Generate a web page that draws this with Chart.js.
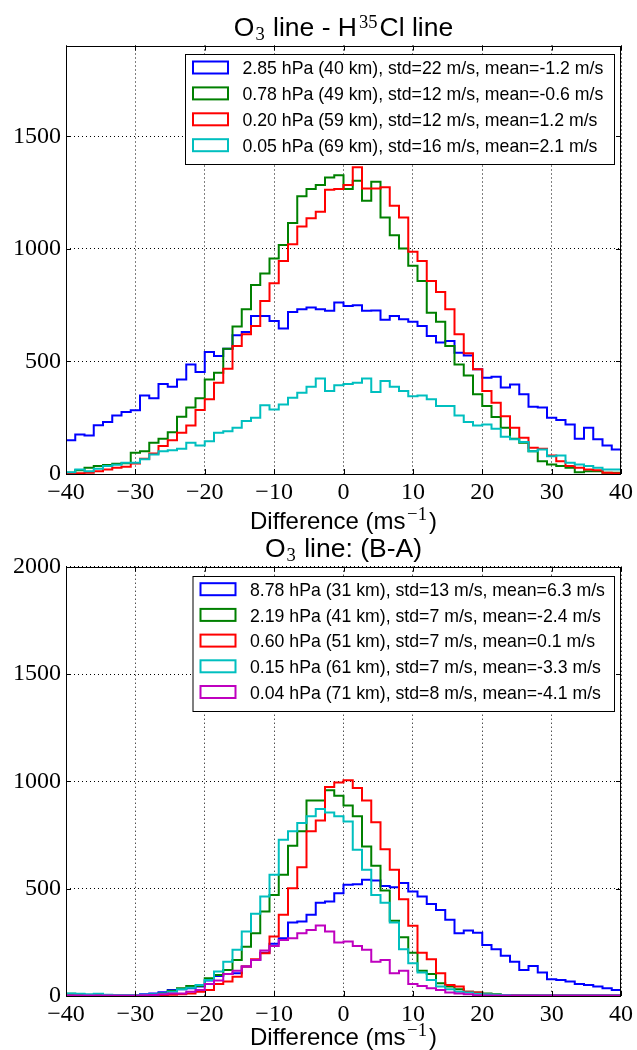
<!DOCTYPE html>
<html><head><meta charset="utf-8">
<script src="https://cdn.jsdelivr.net/npm/chart.js@4"></script>
<style>
html,body{margin:0;padding:0;background:#fff;width:637px;height:1050px;overflow:hidden;position:relative}
canvas{position:absolute;left:0}
#c1{top:0}
#c2{top:535px}
</style></head><body>
<canvas id="c1" width="637" height="540"></canvas>
<canvas id="c2" width="637" height="515"></canvas>
<script>
// ---------- data ----------
const X_MIN = -40, X_MAX = 40, N_BINS = 60;
const X_TICKS = [-40, -30, -20, -10, 0, 10, 20, 30, 40];
const TOP_Y_TICKS = [0, 500, 1000, 1500];
const BOT_Y_TICKS = [0, 500, 1000, 1500, 2000];
const TOP_Y_MAX = 1904, BOT_Y_MAX = 2000;

const TOP_LABELS = [
  "2.85 hPa (40 km), std=22 m/s, mean=-1.2 m/s",
  "0.78 hPa (49 km), std=12 m/s, mean=-0.6 m/s",
  "0.20 hPa (59 km), std=12 m/s, mean=1.2 m/s",
  "0.05 hPa (69 km), std=16 m/s, mean=2.1 m/s"
];
const BOT_LABELS = [
  "8.78 hPa (31 km), std=13 m/s, mean=6.3 m/s",
  "2.19 hPa (41 km), std=7 m/s, mean=-2.4 m/s",
  "0.60 hPa (51 km), std=7 m/s, mean=0.1 m/s",
  "0.15 hPa (61 km), std=7 m/s, mean=-3.3 m/s",
  "0.04 hPa (71 km), std=8 m/s, mean=-4.1 m/s"
];

const TOP_BLUE = [150,176,171,217,231,260,275,283,349,337,400,388,420,487,453,542,524,557,616,631,
  702,702,680,646,720,732,740,732,725,762,747,750,725,727,685,702,688,676,658,613,
  584,591,539,527,465,428,432,384,398,354,299,295,250,240,220,157,206,154,127,109];
const TOP_GREEN = [5,17,28,35,40,45,48,94,101,139,157,186,254,295,337,420,450,557,655,732,
  840,891,958,1017,1115,1234,1266,1284,1318,1328,1266,1303,1214,1299,1140,1061,1002,925,858,717,
  676,569,487,438,354,302,253,206,157,139,101,57,42,35,28,8,12,12,5,5];
const TOP_RED = [3,3,5,12,20,28,32,47,68,91,124,150,183,216,284,332,406,468,569,621,
  658,769,848,947,1021,1100,1136,1165,1263,1266,1284,1363,1269,1269,1274,1192,1140,987,947,858,
  809,732,621,536,465,369,317,257,206,161,117,112,82,57,35,28,20,17,5,3];
const TOP_CYAN = [8,20,12,23,35,41,50,50,65,87,101,106,112,139,127,146,183,190,206,235,
  250,305,287,309,339,361,388,424,369,394,400,406,424,364,413,388,369,346,349,332,
  302,302,260,231,216,220,201,166,154,142,101,109,79,82,50,42,35,28,20,20];

const BOT_BLUE = [3,2,2,3,3,3,4,5,8,12,17,28,31,36,44,72,93,103,106,137,
  168,202,243,269,342,347,378,435,440,479,518,521,541,538,513,507,526,487,464,429,
  401,355,292,305,295,238,218,187,160,121,140,109,78,75,67,56,51,44,36,28];
const BOT_GREEN = [10,8,5,5,3,3,3,3,5,5,12,25,36,47,47,83,98,121,168,230,
  292,394,471,565,700,767,911,911,958,933,887,837,697,607,492,351,274,202,118,103,
  59,44,31,20,16,12,8,5,5,3,3,2,2,2,2,2,2,2,2,2];
const BOT_RED = [2,2,2,2,2,2,3,3,4,4,5,6,8,12,20,28,56,67,90,137,
  171,199,277,378,502,600,767,818,974,995,1005,969,911,809,684,588,451,327,202,171,
  106,51,44,20,16,8,5,4,3,2,2,2,2,2,2,2,2,2,2,2];
const BOT_CYAN = [12,10,8,10,6,5,5,5,6,8,12,20,31,39,51,75,114,160,215,300,
  383,464,565,728,767,806,837,871,855,837,813,681,588,471,435,342,218,153,109,75,
  44,31,20,16,10,8,6,5,4,3,3,3,3,3,3,3,3,3,3,3];
const BOT_MAGENTA = [2,2,2,2,2,2,2,2,3,5,8,12,12,20,28,56,72,103,118,137,
  168,212,233,261,269,292,308,328,300,249,254,233,215,160,168,106,118,56,47,36,
  28,16,12,8,4,2,2,2,2,2,2,2,2,2,2,2,2,2,2,2];

const COLORS = ['#0000ff', '#008000', '#ff0000', '#00bfbf', '#bf00bf'];

// ---------- helpers ----------
const SANS = '"Liberation Sans", Arial, sans-serif';
const SERIF = '"Liberation Serif", "DejaVu Serif", serif';

function stepPoints(counts) {
  const w = (X_MAX - X_MIN) / N_BINS;
  const pts = [{x: X_MIN, y: 0}];
  counts.forEach((c, i) => pts.push({x: X_MIN + (i + 1) * w, y: c}));
  pts.push({x: X_MAX, y: 0});
  return pts;
}
function fmtTick(v) { return v < 0 ? '\u2212' + Math.abs(v) : String(v); }

function drawRich(ctx, segs, cx, base, size) {
  let total = 0;
  const parts = segs.map(s => {
    const fs = s.s ? size * (s.k || 0.7) : size;
    const fam = s.serif ? SERIF : SANS;
    ctx.font = fs + 'px ' + fam;
    const w = ctx.measureText(s.t).width + (s.padL || 0) + (s.padR || 0);
    total += w;
    return Object.assign({}, s, {fs, fam, w});
  });
  let x = cx - total / 2;
  ctx.textAlign = 'left';
  ctx.textBaseline = 'alphabetic';
  ctx.fillStyle = '#000';
  parts.forEach(p => {
    ctx.font = p.fs + 'px ' + p.fam;
    const dy = p.s === 'sub' ? (p.dy || size * 0.16) : p.s === 'sup' ? -(p.dy || size * 0.3) : 0;
    ctx.fillText(p.t, x + (p.padL || 0), base + dy);
    x += p.w;
  });
}

const frameTicks = {
  id: 'frameTicks',
  afterDatasetsDraw(chart) {
    const {ctx, chartArea: a, scales: {x, y}} = chart;
    ctx.save();
    ctx.strokeStyle = '#000';
    ctx.lineWidth = 1;
    ctx.beginPath();
    x.ticks.forEach(t => {
      const px = Math.round(x.getPixelForValue(t.value)) + 0.5;
      ctx.moveTo(px, a.bottom); ctx.lineTo(px, a.bottom - 5);
      ctx.moveTo(px, a.top); ctx.lineTo(px, a.top + 5);
    });
    y.ticks.forEach(t => {
      const py = Math.round(y.getPixelForValue(t.value)) + 0.5;
      ctx.moveTo(a.left, py); ctx.lineTo(a.left + 5, py);
      ctx.moveTo(a.right, py); ctx.lineTo(a.right - 5, py);
    });
    ctx.stroke();
    ctx.strokeRect(Math.round(a.left) + 0.5, Math.round(a.top) + 0.5,
      Math.round(a.right) - Math.round(a.left) - 1, Math.round(a.bottom) - Math.round(a.top));
    ctx.restore();
  }
};

const decorations = {
  id: 'decorations',
  afterDraw(chart, args, o) {
    const {ctx, chartArea: a} = chart;
    ctx.save();
    const cx = (a.left + a.right) / 2;
    drawRich(ctx, o.title, cx, o.titleBase, o.titleSize);
    drawRich(ctx, o.xlabel, cx, o.xlabelBase, o.xlabelSize);
    // legend
    const L = o.legend;
    ctx.fillStyle = '#fff';
    ctx.fillRect(L.x, L.y, L.w, L.h);
    ctx.strokeStyle = '#000';
    ctx.lineWidth = 1;
    ctx.strokeRect(L.x + 0.5, L.y + 0.5, L.w, L.h);
    chart.data.datasets.forEach((ds, i) => {
      const cy = L.row0 + i * L.rowH;
      ctx.strokeStyle = ds.borderColor;
      ctx.lineWidth = 2;
      ctx.strokeRect(L.x + 8, cy - 7, 35, 12);
      ctx.fillStyle = '#000';
      ctx.font = L.fontSize + 'px ' + SANS;
      ctx.textAlign = 'left';
      ctx.textBaseline = 'middle';
      ctx.fillText(ds.label, L.x + 57.5, cy + 1);
    });
    ctx.restore();
  }
};

function makeChart(id, series, labels, yTicks, yMax, layout) {
  const canvas = document.getElementById(id);
  const H = canvas.height;
  const datasets = series.map((s, i) => ({
    label: labels[i],
    data: stepPoints(s),
    borderColor: COLORS[i],
    backgroundColor: COLORS[i],
    borderWidth: 2,
    pointRadius: 0,
    fill: false,
    stepped: 'after',
    tension: 0,
    order: series.length - i
  }));
  return new Chart(canvas, {
    type: 'line',
    data: {datasets},
    plugins: [frameTicks, decorations],
    options: {
      responsive: false,
      animation: false,
      devicePixelRatio: 1,
      events: [],
      layout: {padding: {top: layout.top, right: 637 - layout.right, left: 0, bottom: 0}},
      plugins: {
        legend: {display: false},
        tooltip: {enabled: false},
        decorations: layout.deco
      },
      scales: {
        x: {
          type: 'linear', min: X_MIN, max: X_MAX,
          afterBuildTicks: s => { s.ticks = X_TICKS.map(v => ({value: v})); },
          afterFit: s => { s.height = H - layout.bottom; },
          grid: {color: '#000', lineWidth: 1, drawTicks: false},
          border: {display: false, dash: [1, 3]},
          ticks: {
            autoSkip: false, maxRotation: 0, padding: 4, color: '#000',
            font: {family: SERIF, size: 24},
            callback: v => fmtTick(v)
          }
        },
        y: {
          type: 'linear', min: 0, max: yMax,
          afterBuildTicks: s => { s.ticks = yTicks.map(v => ({value: v})); },
          afterFit: s => { s.width = layout.left; },
          grid: {color: '#000', lineWidth: 1, drawTicks: false},
          border: {display: false, dash: [1, 3]},
          ticks: {
            padding: 5, color: '#000',
            font: {family: SERIF, size: 24},
            callback: v => fmtTick(v)
          }
        }
      }
    }
  });
}

const TITLE_TOP = [{t: 'O'}, {t: '3', s: 'sub', serif: true, dy: 4, padL: 1, padR: 1}, {t: ' line - H'},
  {t: '35', s: 'sup', serif: true, dy: 7.7, padL: 2, padR: 2}, {t: 'Cl line'}];
const TITLE_BOT = [{t: 'O'}, {t: '3', s: 'sub', serif: true, dy: 4, padL: 1, padR: 1}, {t: ' line: (B-A)'}];
const XLABEL = [{t: 'Difference (ms'}, {t: '\u22121', s: 'sup', k: 0.78, serif: true, dy: 9.3, padL: 1.5, padR: 2}, {t: ')'}];

makeChart('c1', [TOP_BLUE, TOP_GREEN, TOP_RED, TOP_CYAN], TOP_LABELS, TOP_Y_TICKS, TOP_Y_MAX, {
  top: 45.5, bottom: 474, left: 66, right: 622.7,
  deco: {
    title: TITLE_TOP, titleBase: 36, titleSize: 26.5,
    xlabel: XLABEL, xlabelBase: 529.3, xlabelSize: 24,
    legend: {x: 185, y: 54, w: 429, h: 110, row0: 68.5, rowH: 25.9, fontSize: 17.7}
  }
});
makeChart('c2', [BOT_BLUE, BOT_GREEN, BOT_RED, BOT_CYAN, BOT_MAGENTA], BOT_LABELS, BOT_Y_TICKS, BOT_Y_MAX, {
  top: 31.7, bottom: 461, left: 66, right: 622.7,
  deco: {
    title: TITLE_BOT, titleBase: 22.3, titleSize: 26.5,
    xlabel: XLABEL, xlabelBase: 510, xlabelSize: 24,
    legend: {x: 192.5, y: 41, w: 421.5, h: 135, row0: 55.2, rowH: 25.7, fontSize: 17.7}
  }
});
</script>
</body></html>
